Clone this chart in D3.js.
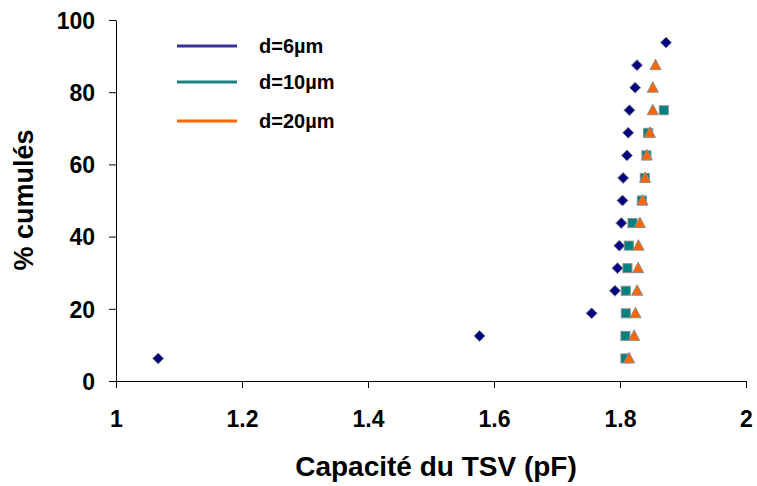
<!DOCTYPE html>
<html><head><meta charset="utf-8">
<script src="https://cdn.jsdelivr.net/npm/d3@7"></script>
<style>
html,body{margin:0;padding:0;background:#fff;}
svg{display:block;font-family:"Liberation Sans",Arial,sans-serif;}
</style></head>
<body>
<svg id="chart" width="757" height="486"></svg>
<script>
const seriesNames = ["d=6µm", "d=10µm", "d=20µm"];
const xTicks = [1, 1.2, 1.4, 1.6, 1.8, 2];
const yTicks = [0, 20, 40, 60, 80, 100];
// d=6µm (diamonds)
const d6X = [1.067, 1.577, 1.755, 1.792, 1.796, 1.799, 1.802, 1.804, 1.805, 1.811, 1.813, 1.815, 1.824, 1.827, 1.873];
const d6Y = [6.25, 12.5, 18.75, 25, 31.25, 37.5, 43.75, 50, 56.25, 62.5, 68.75, 75, 81.25, 87.5, 93.75];
// d=10µm (squares)
const d10X = [1.8086, 1.8086, 1.8092, 1.8092, 1.8118, 1.8140, 1.8198, 1.8347, 1.8394, 1.842, 1.8447, 1.8696];
const d10Y = [6.25, 12.5, 18.75, 25, 31.25, 37.5, 43.75, 50, 56.25, 62.5, 68.75, 75];
// d=20µm (triangles)
const d20X = [1.8145, 1.8224, 1.8246, 1.8272, 1.8288, 1.8293, 1.8315, 1.8358, 1.8399, 1.8426, 1.8474, 1.8521, 1.8521, 1.8564];
const d20Y = [6.25, 12.5, 18.75, 25, 31.25, 37.5, 43.75, 50, 56.25, 62.5, 68.75, 75, 81.25, 87.5];

const svg = d3.select("#chart");
const x = d3.scaleLinear().domain([1, 2]).range([116, 746]);
const y = d3.scaleLinear().domain([0, 100]).range([381, 20]);

// axes
const xAxis = svg.append("g").attr("transform", "translate(0,381)")
  .call(d3.axisBottom(x).tickValues(xTicks).tickSize(7).tickSizeOuter(0).tickFormat(d3.format("")));
const yAxis = svg.append("g").attr("transform", "translate(116,0)")
  .call(d3.axisLeft(y).tickValues(yTicks).tickSize(7).tickSizeOuter(0));
[xAxis, yAxis].forEach(a => {
  a.select(".domain").attr("stroke", "#000").attr("stroke-width", 1);
  a.selectAll(".tick line").attr("stroke", "#000");
  a.selectAll(".tick text").attr("font-family", "'Liberation Sans',Arial,sans-serif")
    .attr("font-size", 23).attr("font-weight", "bold").attr("fill", "#000");
});
xAxis.selectAll(".tick text").attr("dy", null).attr("y", 46);
yAxis.selectAll(".tick text").attr("x", -21).attr("dy", "0.36em");

// titles
svg.append("text").attr("x", 436).attr("y", 476).attr("text-anchor", "middle")
  .attr("font-size", 28).attr("font-weight", "bold").text("Capacité du TSV (pF)");
svg.append("text").attr("transform", "translate(33,200) rotate(-90)").attr("text-anchor", "middle")
  .attr("font-size", 27).attr("font-weight", "bold").text("% cumulés");

const stroke = "#8c8c8c";
// diamonds
svg.append("g").selectAll("path").data(d6X).join("path")
  .attr("d", "M0,-5.5L5.5,0L0,5.5L-5.5,0Z")
  .attr("transform", (d, i) => `translate(${x(d)},${y(d6Y[i])})`)
  .attr("fill", "#000080").attr("stroke", stroke).attr("stroke-width", 1);
// squares
svg.append("g").selectAll("rect").data(d10X).join("rect")
  .attr("x", d => x(d) - 4.5).attr("y", (d, i) => y(d10Y[i]) - 4.5)
  .attr("width", 9).attr("height", 9)
  .attr("fill", "#008080").attr("stroke", stroke).attr("stroke-width", 1);
// triangles
svg.append("g").selectAll("path").data(d20X).join("path")
  .attr("d", "M0,-6L5.5,4.5L-5.5,4.5Z")
  .attr("transform", (d, i) => `translate(${x(d)},${y(d20Y[i])})`)
  .attr("fill", "#FF6600").attr("stroke", stroke).attr("stroke-width", 1);

// legend
const legColors = ["#333399", "#1a8080", "#FF6600"];
const legY = [46, 82, 121];
const leg = svg.append("g");
seriesNames.forEach((n, i) => {
  leg.append("line").attr("x1", 177).attr("x2", 237).attr("y1", legY[i]).attr("y2", legY[i])
    .attr("stroke", legColors[i]).attr("stroke-width", 3);
  leg.append("text").attr("x", 259).attr("y", legY[i]).attr("dy", "0.36em")
    .attr("font-size", 20).attr("font-weight", "bold").text(n);
});
</script>
</body></html>
